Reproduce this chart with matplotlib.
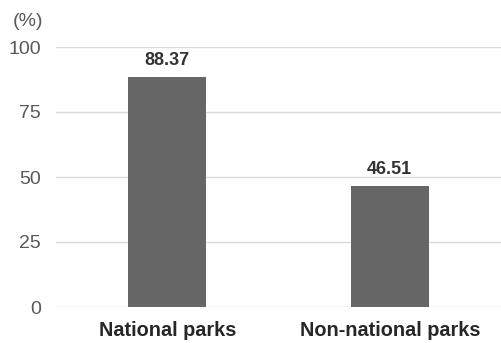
import matplotlib
matplotlib.use("Agg")
import matplotlib.pyplot as plt

categories = ["National parks", "Non-national parks"]
values = [88.37, 46.51]
yticks = [0, 25, 50, 75, 100]

plt.rcParams['font.family'] = ['Liberation Sans', 'DejaVu Sans']

fig = plt.figure(figsize=(5.01, 3.43), dpi=100)
ax = fig.add_axes([56 / 501, 1 - 307 / 343, 445 / 501, 260 / 343])

x = range(len(categories))
bars = ax.bar(x, values, width=0.35, color="#666666", zorder=2)

# value labels above the bars
for b, v in zip(bars, values):
    ax.text(b.get_x() + b.get_width() / 2, v + 3, f"{v:.2f}",
            ha="center", va="bottom", fontsize=13, fontweight="bold", color="#333333")

ax.set_xlim(-0.5, 1.5)
ax.set_ylim(0, 100)
ax.set_yticks(yticks)
ax.set_xticks(list(x))
ax.set_xticklabels(categories, fontsize=14.3, fontweight="bold", color="#262626")
ax.tick_params(axis="y", labelsize=14, colors="#595959", length=0, pad=11)
ax.tick_params(axis="x", length=0, pad=10)
ax.grid(axis="y", color="#d9d9d9", linewidth=1, zorder=0)
for s in ax.spines.values():
    s.set_visible(False)

fig.text(13 / 501, 1 - 21 / 343, "(%)", fontsize=14, color="#595959", va="center", ha="left")

fig.savefig("out.png", dpi=100)
